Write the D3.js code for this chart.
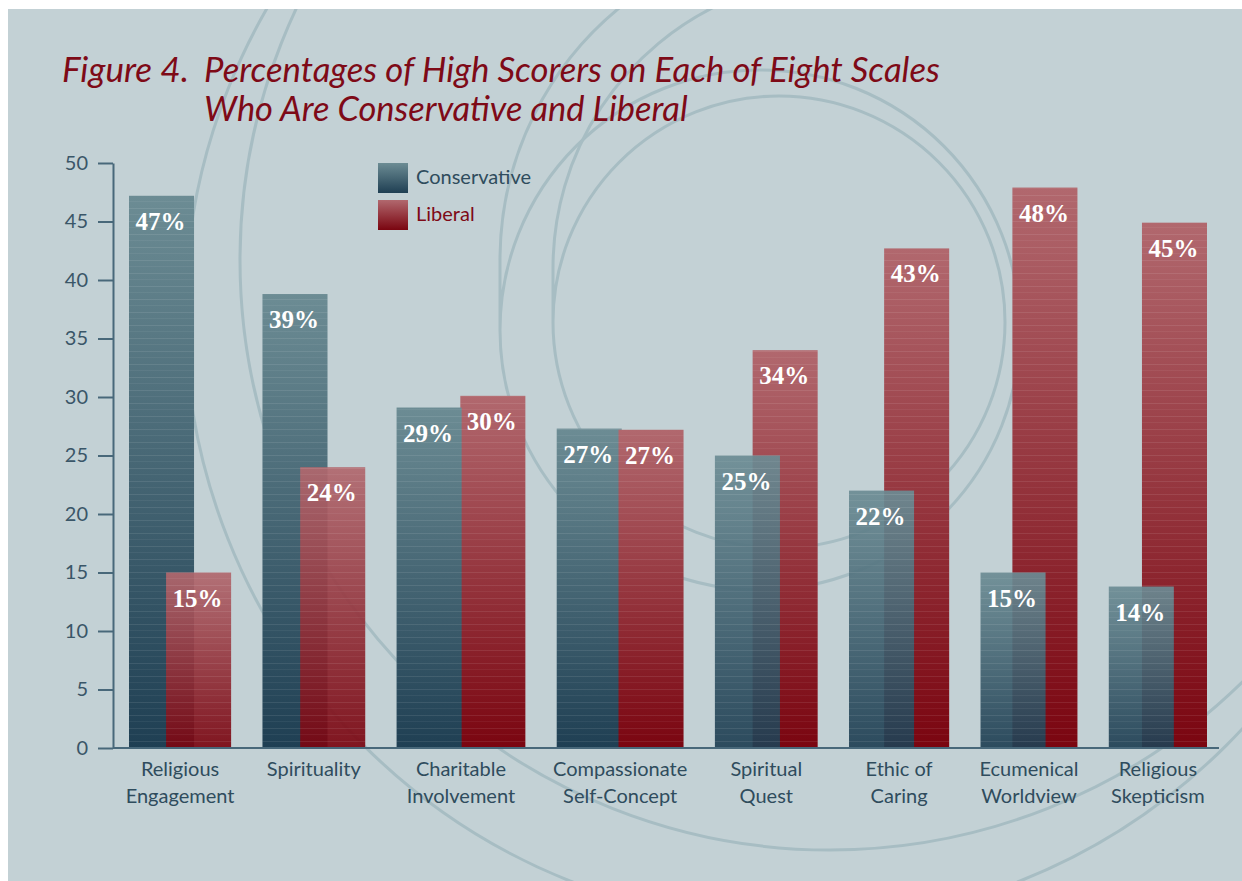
<!DOCTYPE html>
<html><head><meta charset="utf-8">
<script src="https://cdn.jsdelivr.net/npm/d3@7"></script>
<style>html,body{margin:0;padding:0;background:#fff;} svg{display:block}</style>
</head><body>
<svg id="chart" width="1242" height="881"></svg>
<script>
// ---------- DATA ----------
const categories = ["Religious\nEngagement", "Spirituality", "Charitable\nInvolvement", "Compassionate\nSelf-Concept",
                    "Spiritual\nQuest", "Ethic of\nCaring", "Ecumenical\nWorldview", "Religious\nSkepticism"];
const conservative = [47.2, 38.8, 29.1, 27.3, 25.0, 22.0, 15.0, 13.8];
const liberal      = [15.0, 24.0, 30.1, 27.2, 34.0, 42.7, 47.9, 44.9];
const seriesNames  = ["Conservative", "Liberal"];
const yTicks       = [0, 5, 10, 15, 20, 25, 30, 35, 40, 45, 50];
const titleLines   = ["Figure 4.", "Percentages of High Scorers on Each of Eight Scales", "Who Are Conservative and Liberal"];

// ---------- LAYOUT (not data) ----------
const W = 1242, H = 881;
const pairShift = [0.57, 0.58, 0.98, 0.95, 0.58, 0.54, 0.49, 0.51]; // offset of 2nd bar, in bar widths
const groupGap = 0.482;                                              // gap between groups, in bar widths
const C = {
  bg: "#c3d1d5", ring: "#a7bdc3", axis: "#48687a", tick: "#3a5668", cat: "#2f4c5d",
  title: "#7e0a17", consTop: "#6c8c94", consBot: "#1f3f53", libTop: "#b1686e", libBot: "#7a0510"
};

const svg = d3.select("#chart");
const defs = svg.append("defs");
function grad(id, top, bot) {
  const g = defs.append("linearGradient").attr("id", id).attr("x1", 0).attr("y1", 0).attr("x2", 0).attr("y2", 1);
  g.append("stop").attr("offset", "0%").attr("stop-color", top);
  g.append("stop").attr("offset", "100%").attr("stop-color", bot);
}
grad("gCons", C.consTop, C.consBot);
grad("gLib", C.libTop, C.libBot);

// stripe texture
const pat = defs.append("pattern").attr("id", "stripes").attr("patternUnits", "userSpaceOnUse")
  .attr("width", 8).attr("height", 13);
pat.append("rect").attr("x", 0).attr("y", 0).attr("width", 8).attr("height", 1).attr("fill", "#ffffff").attr("opacity", 0.09);
pat.append("rect").attr("x", 0).attr("y", 6).attr("width", 8).attr("height", 1).attr("fill", "#ffffff").attr("opacity", 0.05);

// background panel
svg.append("rect").attr("x", 0).attr("y", 0).attr("width", W).attr("height", H).attr("fill", "#ffffff");
const clip = defs.append("clipPath").attr("id", "panelClip");
clip.append("rect").attr("x", 8).attr("y", 9).attr("width", W - 8).attr("height", H - 9);
svg.append("rect").attr("x", 8).attr("y", 9).attr("width", W - 8).attr("height", H - 9).attr("fill", C.bg);

// decorative rings (spiral-like)
const rings = svg.append("g").attr("clip-path", "url(#panelClip)").attr("fill", "none")
  .attr("stroke", C.ring).attr("stroke-width", 3);
[[795, 314, 610], [830, 260, 590]].forEach(([cx, cy, r]) =>
  rings.append("circle").attr("cx", cx).attr("cy", cy).attr("r", r));
// inner turns: arc from the top edge down to its leftmost point, vertical join, then a full loop
[[826, 260, 326, 760, 330, 260], [845, 268, 292, 779, 322, 226]].forEach(([ox, oy, or, ix, iy, ir]) => {
  const p = d3.path();
  const a0 = Math.PI + Math.asin(Math.min(1, oy / or));
  p.moveTo(ox + or * Math.cos(a0), oy + or * Math.sin(a0));
  p.arc(ox, oy, or, a0, Math.PI, true);
  p.lineTo(ix - ir, iy);
  p.arc(ix, iy, ir, Math.PI, -Math.PI, true);
  rings.append("path").attr("d", p.toString());
});

// scales
const starts = [];
let acc = 0;
pairShift.forEach((s, i) => { starts.push(acc); acc += 1 + s + (i < pairShift.length - 1 ? groupGap : 0); });
const x = d3.scaleLinear().domain([0, acc]).range([129, 1207]);
const y = d3.scaleLinear().domain([0, 50]).range([748, 163]);
const bw = x(1) - x(0);

// title
const title = svg.append("g").attr("fill", C.title).attr("font-family", "Lato, 'Open Sans', sans-serif")
  .attr("font-style", "italic").attr("font-size", 31);
function fitText(t, target) {
  const w = t.node().getComputedTextLength();
  t.attr("font-size", 31 * target / w);
}
fitText(title.append("text").attr("x", 62).attr("y", 82).text(titleLines[0]), 127);
fitText(title.append("text").attr("x", 204).attr("y", 82).text(titleLines[1]), 736);
fitText(title.append("text").attr("x", 204).attr("y", 121).text(titleLines[2]), 484);

// axes
const yAxis = svg.append("g").attr("transform", `translate(113,0)`)
  .call(d3.axisLeft(y).tickValues(yTicks).tickSize(15).tickSizeOuter(0).tickPadding(10));
yAxis.select(".domain").attr("stroke", C.axis).attr("stroke-width", 2);
yAxis.selectAll(".tick line").attr("stroke", C.axis).attr("stroke-width", 2);
yAxis.selectAll(".tick text").attr("fill", C.tick).attr("font-family", "Lato, sans-serif").attr("font-size", 20);

// bars
const groups = categories.map((c, i) => {
  const x0 = starts[i], x1 = starts[i] + pairShift[i];
  const bars = [
    {key: "cons", v: conservative[i], u: x0, fill: "url(#gCons)"},
    {key: "lib", v: liberal[i], u: x1, fill: "url(#gLib)"}
  ].sort((a, b) => b.v - a.v);
  return {i, bars, center: (x(x0) + x(x1) + bw) / 2};
});
const barG = svg.append("g");
groups.forEach(g => {
  g.bars.forEach((b, k) => {
    const op = k === 1 && pairShift[g.i] < 0.9 ? 0.92 : 1;
    barG.append("rect").attr("x", x(b.u)).attr("y", y(b.v)).attr("width", bw).attr("height", y(0) - y(b.v))
      .attr("fill", b.fill).attr("opacity", op);
    barG.append("rect").attr("x", x(b.u)).attr("y", y(b.v)).attr("width", bw).attr("height", y(0) - y(b.v))
      .attr("fill", "url(#stripes)");
    barG.append("text").attr("x", x(b.u) + bw / 2 - 1).attr("y", y(b.v) + 34)
      .attr("text-anchor", "middle").attr("fill", "#ffffff").attr("font-family", "'Liberation Serif', serif")
      .attr("font-weight", "bold").attr("font-size", 25).text(Math.round(b.v) + "%");
  });
});

// x axis baseline
svg.append("line").attr("x1", 113).attr("x2", 1219).attr("y1", y(0)).attr("y2", y(0))
  .attr("stroke", C.axis).attr("stroke-width", 2);

// category labels
const catG = svg.append("g").attr("fill", C.cat).attr("font-family", "Lato, sans-serif").attr("font-size", 20)
  .attr("text-anchor", "middle");
groups.forEach(g => {
  const t = catG.append("text").attr("x", g.center).attr("y", 776);
  categories[g.i].split("\n").forEach((line, k) =>
    t.append("tspan").attr("x", g.center).attr("dy", k === 0 ? 0 : 27).text(line));
});

// legend
const leg = svg.append("g");
[["url(#gCons)", C.cat], ["url(#gLib)", C.title]].forEach(([f, tc], k) => {
  leg.append("rect").attr("x", 378).attr("y", 163 + k * 37).attr("width", 30).attr("height", 30).attr("fill", f);
  leg.append("text").attr("x", 416).attr("y", 184 + k * 37).attr("fill", tc)
    .attr("font-family", "Lato, sans-serif").attr("font-size", 20).text(seriesNames[k]);
});
</script>
</body></html>
